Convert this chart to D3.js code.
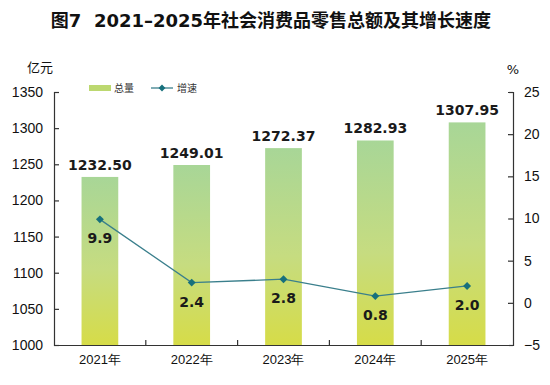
<!DOCTYPE html>
<html>
<head>
<meta charset="utf-8">
<script src="https://cdn.jsdelivr.net/npm/d3@7"></script>
<style>
  body { margin: 0; background: #fff; }
  svg { display: block; font-family: "DejaVu Sans", "Noto Sans CJK SC", sans-serif; }
</style>
</head>
<body>
<div id="chart"></div>
<script>
const years = ["2021年", "2022年", "2023年", "2024年", "2025年"];
const totals = [1232.50, 1249.01, 1272.37, 1282.93, 1307.95];
const growth = [9.9, 2.4, 2.8, 0.8, 2.0];
const leftTicks = [1000, 1050, 1100, 1150, 1200, 1250, 1300, 1350];
const rightTicks = [-5, 0, 5, 10, 15, 20, 25];

const W = 550, H = 385;
const m = { left: 54, right: 37, top: 92, bottom: 40 };
const innerW = W - m.left - m.right;
const innerH = H - m.top - m.bottom;

const svg = d3.select("#chart").append("svg")
    .attr("width", W)
    .attr("height", H);

const defs = svg.append("defs");
const grad = defs.append("linearGradient")
    .attr("id", "barGrad")
    .attr("x1", 0).attr("y1", 0).attr("x2", 0).attr("y2", 1);
grad.append("stop").attr("offset", "0%").attr("stop-color", "#a8d697");
grad.append("stop").attr("offset", "55%").attr("stop-color", "#c6dc80");
grad.append("stop").attr("offset", "100%").attr("stop-color", "#d6dc48");

// title
svg.append("text")
    .attr("x", 271)
    .attr("y", 27)
    .attr("text-anchor", "middle")
    .attr("font-size", 18)
    .attr("font-weight", "bold")
    .attr("fill", "#111")
    .style("white-space", "pre")
    .text("图7  2021–2025年社会消费品零售总额及其增长速度");

const g = svg.append("g").attr("transform", `translate(${m.left},${m.top})`);

const x = d3.scaleBand().domain(years).range([0, innerW]).paddingInner(0.6).paddingOuter(0.3);
const xCenter = d => x(d) + x.bandwidth() / 2;
const yL = d3.scaleLinear().domain([1000, 1350]).range([innerH, 0]);
const yR = d3.scaleLinear().domain([-5, 25]).range([innerH, 0]);

// bars
g.selectAll("rect.bar")
    .data(totals)
    .enter()
    .append("rect")
    .attr("class", "bar")
    .attr("x", (d, i) => x(years[i]))
    .attr("y", d => yL(d))
    .attr("width", x.bandwidth())
    .attr("height", d => innerH - yL(d))
    .attr("fill", "url(#barGrad)");

// bar labels
g.selectAll("text.total")
    .data(totals)
    .enter()
    .append("text")
    .attr("class", "total")
    .attr("x", (d, i) => xCenter(years[i]))
    .attr("y", d => yL(d) - 7)
    .attr("text-anchor", "middle")
    .attr("font-size", 14)
    .attr("font-weight", "bold")
    .attr("fill", "#1a1a1a")
    .text(d => d.toFixed(2));

// axes
const axisStyle = sel => {
    sel.select(".domain").attr("stroke", "#333").attr("stroke-width", 1.2);
    sel.selectAll(".tick line").attr("stroke", "#333").attr("stroke-width", 1.2);
    sel.selectAll(".tick text").attr("fill", "#111").attr("font-size", 14);
};

g.append("g")
    .call(d3.axisLeft(yL).tickValues(leftTicks).tickFormat(d3.format("d"))
        .tickSize(-5).tickSizeOuter(-5).tickPadding(11))
    .call(axisStyle);

g.append("g")
    .attr("transform", `translate(${innerW},0)`)
    .call(d3.axisRight(yR).tickValues(rightTicks).tickFormat(d3.format("d"))
        .tickSize(-5).tickSizeOuter(-5).tickPadding(11))
    .call(axisStyle);

const xAxis = g.append("g")
    .attr("transform", `translate(0,${innerH})`)
    .call(d3.axisBottom(x).tickSize(0).tickSizeOuter(0).tickPadding(10))
    .call(axisStyle);
xAxis.selectAll(".tick text").attr("font-size", 13);

// category dividers on x axis
const step = x.step();
g.selectAll("line.div")
    .data(years.slice(1))
    .enter()
    .append("line")
    .attr("class", "div")
    .attr("x1", d => x(d) - (step - x.bandwidth()) / 2)
    .attr("x2", d => x(d) - (step - x.bandwidth()) / 2)
    .attr("y1", innerH)
    .attr("y2", innerH - 5)
    .attr("stroke", "#333")
    .attr("stroke-width", 1.2);

// growth line
const line = d3.line()
    .x((d, i) => xCenter(years[i]))
    .y(d => yR(d));

g.append("path")
    .datum(growth)
    .attr("d", line)
    .attr("fill", "none")
    .attr("stroke", "#3a7f8c")
    .attr("stroke-width", 1.3);

g.selectAll("path.dot")
    .data(growth)
    .enter()
    .append("path")
    .attr("class", "dot")
    .attr("d", d3.symbol().type(d3.symbolDiamond2).size(40))
    .attr("transform", (d, i) => `translate(${xCenter(years[i])},${yR(d)})`)
    .attr("fill", "#17707c");

g.selectAll("text.growth")
    .data(growth)
    .enter()
    .append("text")
    .attr("class", "growth")
    .attr("x", (d, i) => xCenter(years[i]))
    .attr("y", d => yR(d) + 24)
    .attr("text-anchor", "middle")
    .attr("font-size", 14)
    .attr("font-weight", "bold")
    .attr("fill", "#1a1a1a")
    .text(d => d.toFixed(1));

// unit labels
svg.append("text")
    .attr("x", 40).attr("y", 72)
    .attr("text-anchor", "middle")
    .attr("font-size", 13)
    .attr("fill", "#111")
    .text("亿元");

svg.append("text")
    .attr("x", 513).attr("y", 74)
    .attr("text-anchor", "middle")
    .attr("font-size", 13)
    .attr("fill", "#111")
    .text("%");

// legend
const legend = svg.append("g").attr("transform", "translate(89,88)");
legend.append("rect")
    .attr("x", 0).attr("y", -3)
    .attr("width", 22).attr("height", 6)
    .attr("fill", "#bcd870");
legend.append("text")
    .attr("x", 25).attr("y", 4)
    .attr("font-size", 10)
    .attr("fill", "#333")
    .text("总量");
legend.append("line")
    .attr("x1", 62).attr("x2", 84)
    .attr("y1", 0).attr("y2", 0)
    .attr("stroke", "#3a7f8c")
    .attr("stroke-width", 1.3);
legend.append("path")
    .attr("d", d3.symbol().type(d3.symbolDiamond2).size(30))
    .attr("transform", "translate(73,0)")
    .attr("fill", "#17707c");
legend.append("text")
    .attr("x", 88).attr("y", 4)
    .attr("font-size", 10)
    .attr("fill", "#333")
    .text("增速");
</script>
</body>
</html>
